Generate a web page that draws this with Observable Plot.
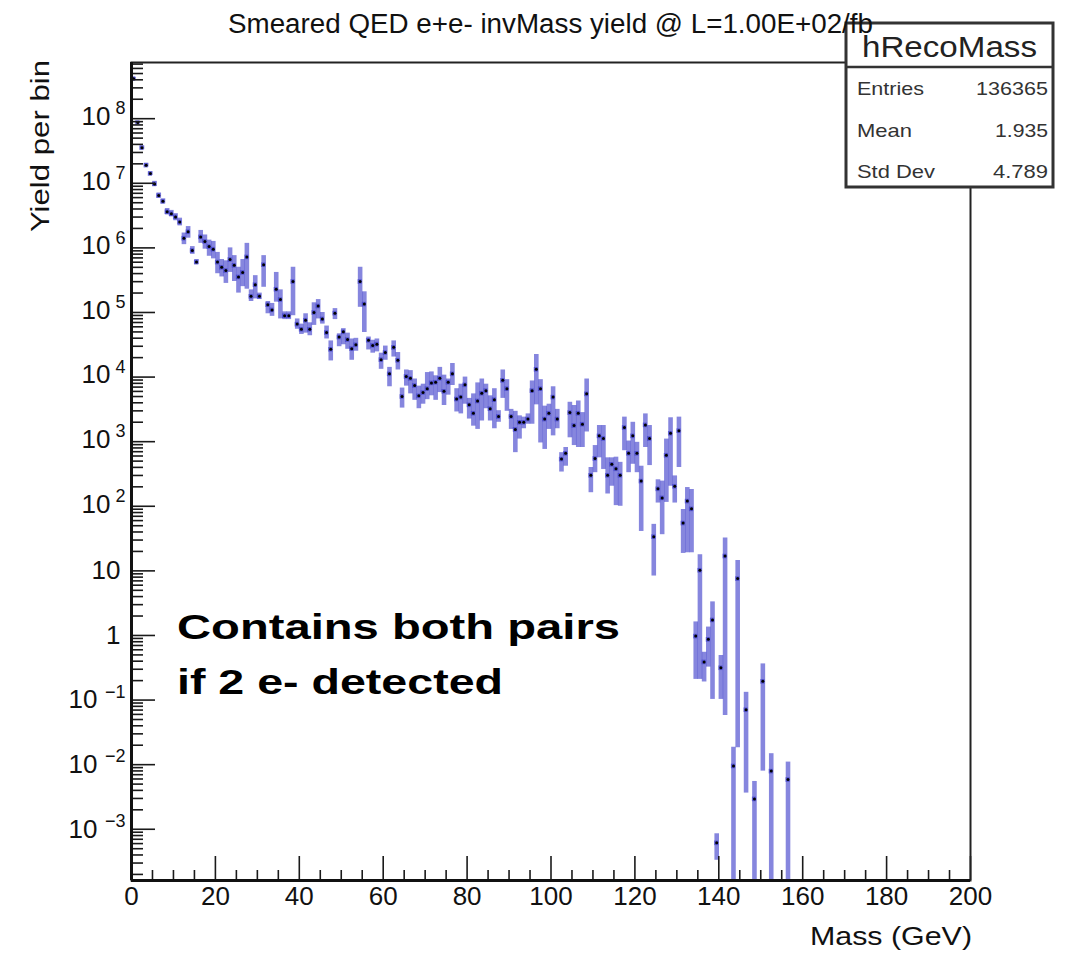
<!DOCTYPE html>
<html>
<head>
<meta charset="utf-8">
<script src="https://cdn.jsdelivr.net/npm/d3@7"></script>
<script src="https://cdn.jsdelivr.net/npm/@observablehq/plot@0.6"></script>
<style>
  html, body { margin: 0; padding: 0; background: #fff; }
  #chart svg { display: block; }
</style>
</head>
<body>
<div id="chart"></div>
<script>
// ---- data (1 GeV bins; yields on log axis) ----
const massBins = [
  0.5,1.5,2.5,3.5,4.5,5.5,6.5,7.5,8.5,9.5,
  10.5,11.5,12.5,13.5,14.5,15.5,16.5,17.5,18.5,19.5,
  20.5,21.5,22.5,23.5,24.5,25.5,26.5,27.5,28.5,29.5,
  30.5,31.5,32.5,33.5,34.5,35.5,36.5,37.5,38.5,39.5,
  40.5,41.5,42.5,43.5,44.5,45.5,46.5,47.5,48.5,49.5,
  50.5,51.5,52.5,53.5,54.5,55.5,56.5,57.5,58.5,59.5,
  60.5,61.5,62.5,63.5,64.5,65.5,66.5,67.5,68.5,69.5,
  70.5,71.5,72.5,73.5,74.5,75.5,76.5,77.5,78.5,79.5,
  80.5,81.5,82.5,83.5,84.5,85.5,86.5,87.5,88.5,89.5,
  90.5,91.5,92.5,93.5,94.5,95.5,96.5,97.5,98.5,99.5,
  100.5,101.5,102.5,103.5,104.5,105.5,106.5,107.5,108.5,109.5,
  110.5,111.5,112.5,113.5,114.5,115.5,116.5,117.5,118.5,119.5,
  120.5,121.5,122.5,123.5,124.5,125.5,126.5,127.5,128.5,129.5,
  130.5,131.5,132.5,133.5,134.5,135.5,136.5,137.5,138.5,139.5,
  140.5,141.5,
  143.5,144.5,146.5,148.5,150.5,152.5,156.5
];
// log10(yield per bin)
const logYield = [
  8.62,7.94,7.55,7.28,7.15,6.99,6.81,6.72,6.56,6.53,
  6.48,6.40,6.15,6.25,5.96,5.78,6.17,6.10,6.02,5.98,
  5.78,5.70,5.65,5.82,5.73,5.55,5.62,5.86,5.25,5.43,
  5.25,5.74,5.12,5.04,5.36,5.20,4.95,4.95,5.48,4.82,
  4.74,4.88,4.74,5.00,5.10,4.90,4.69,4.43,4.99,4.62,
  4.70,4.58,4.44,4.50,5.48,5.13,4.57,4.49,4.51,4.27,
  4.38,4.05,4.46,4.26,3.70,4.01,3.98,3.87,3.71,3.76,
  3.82,3.91,3.92,3.98,3.78,3.92,4.05,3.66,3.69,3.88,
  3.57,3.44,3.63,3.75,3.79,3.51,3.65,3.39,3.95,3.82,
  3.39,3.19,3.30,3.30,3.35,3.79,4.12,3.82,3.35,3.44,
  3.69,3.35,2.73,2.82,3.45,3.25,3.44,3.27,3.74,2.48,
  2.74,3.09,3.05,2.48,2.65,2.58,2.48,3.22,2.82,3.09,
  2.82,2.39,3.26,3.05,1.53,2.27,2.13,2.79,3.13,2.31,
  3.17,1.74,2.08,1.96,-0.01,1.01,-0.41,-0.06,0.24,-3.21,
  -0.50,1.23,
  -2.02,0.88,-1.15,-2.53,-0.71,-2.10,-2.23
];
// upper / lower error, in decades
const errUp = [
  .02,.02,.03,.03,.03,.04,.04,.04,.05,.05,
  .05,.06,.08,.08,.06,.04,.10,.10,.10,.12,
  .15,.12,.15,.18,.15,.15,.20,.21,.10,.14,
  .05,.14,.05,.10,.26,.15,.06,.06,.22,.08,
  .08,.10,.10,.15,.10,.10,.10,.13,.07,.05,
  .05,.10,.15,.10,.22,.19,.05,.08,.08,.10,
  .10,.10,.10,.12,.13,.10,.12,.10,.15,.13,
  .25,.17,.10,.17,.25,.05,.16,.16,.20,.12,
  .10,.30,.28,.22,.10,.20,.17,.09,.16,.14,
  .11,.28,.10,.08,.08,.15,.23,.14,.20,.14,
  .16,.15,.10,.09,.16,.31,.19,.18,.23,.12,
  .20,.16,.20,.27,.10,.18,.20,.16,.19,.21,
  .17,.23,.17,.20,.19,.14,.26,.25,.24,.16,
  .21,.21,.21,.30,.22,.24,.15,.19,.28,.14,
  .19,.28,
  .29,.28,.27,.27,.27,.27,.27
];
const errDown = [
  .02,.02,.03,.03,.03,.04,.04,.04,.05,.05,
  .06,.06,.10,.10,.06,.04,.10,.12,.15,.15,
  .18,.15,.20,.20,.25,.25,.22,.50,.08,.22,
  .05,.35,.14,.10,.20,.30,.06,.06,.53,.08,
  .08,.20,.10,.20,.20,.08,.10,.18,.10,.15,
  .20,.15,.18,.10,.40,.44,.15,.12,.12,.15,
  .12,.20,.15,.15,.18,.15,.24,.23,.20,.18,
  .17,.20,.28,.22,.22,.20,.18,.20,.26,.30,
  .22,.20,.44,.43,.28,.19,.45,.09,.28,.35,
  .20,.36,.26,.10,.08,.52,.55,.84,.47,.25,
  .60,.15,.20,.20,.39,.31,.53,.36,.59,.27,
  .22,.34,.48,.29,.34,.57,.48,.36,.30,.44,
  .30,.78,.35,.42,.61,.22,.57,.73,.82,.26,
  .57,.47,.80,.68,.67,1.69,.31,.43,1.23,.27,
  .49,2.47,
  9,2.62,1.29,9,1.39,9,9
];

const xTickValues = [0,20,40,60,80,100,120,140,160,180,200];
const xTickLabels = ["0","20","40","60","80","100","120","140","160","180","200"];
const yTickValues = [1e8,1e7,1e6,1e5,1e4,1e3,1e2,1e1,1,1e-1,1e-2,1e-3];
const yTickBase   = ["10","10","10","10","10","10","10","10","1","10","10","10"];
const yTickExp    = ["8","7","6","5","4","3","2","","","\u22121","\u22122","\u22123"];

const titleText = "Smeared QED e+e- invMass yield @ L=1.00E+02/fb";
const xTitle = "Mass (GeV)";
const yTitle = "Yield per bin";
const annotLines = ["Contains both pairs", "if 2 e- detected"];
const statsName = "hRecoMass";
const statsLabels = ["Entries", "Mean", "Std Dev"];
const statsValues = ["136365", "1.935", "4.789"];

// ---- layout ----
const W = 1066, H = 953;
const mL = 131, mR = 96, mT = 62, mB = 73;
const innerW = W - mL - mR, innerH = H - mT - mB;
const yDomain = [1.61e-4, 7.41e8];
const barColor = "#3535c8";
const font = "'Liberation Sans', Arial, Helvetica, sans-serif";

const data = massBins.map((m, i) => ({
  m,
  y: Math.pow(10, logYield[i]),
  lo: Math.max(Math.pow(10, logYield[i] - errDown[i]), yDomain[0]),
  hi: Math.pow(10, logYield[i] + errUp[i])
}));

// tick positions
const xMinor = d3.range(0, 201, 5).filter(v => v % 20 !== 0);
const yMinor = [];
for (let e = -4; e <= 8; e++) for (let k = 2; k <= 9; k++) {
  const v = k * Math.pow(10, e);
  if (v > yDomain[0] && v < yDomain[1]) yMinor.push(v);
}
const yLab = yTickValues.map((v, i) => ({v, base: yTickBase[i], exp: yTickExp[i]}));
const yPlain = yLab.filter(d => d.exp === "");
const yPos = yLab.filter(d => d.exp !== "" && !d.exp.startsWith("\u2212"));
const yNeg = yLab.filter(d => d.exp.startsWith("\u2212"));

const tickColor = "#1a1a1a";
const chart = Plot.plot({
  width: W, height: H,
  marginLeft: mL, marginRight: mR, marginTop: mT, marginBottom: mB,
  style: {fontFamily: font, background: "white", overflow: "visible", color: "#111"},
  x: {domain: [0, 200], axis: null},
  y: {type: "log", domain: yDomain, axis: null},
  marks: [
    // error bars (vertical and bin-width)
    Plot.ruleX(data, {x: "m", y1: "lo", y2: "hi", stroke: barColor, strokeOpacity: 0.6, strokeWidth: 4.6}),
    Plot.ruleY(data, {y: "y", x1: d => d.m - 0.5, x2: d => d.m + 0.5, stroke: barColor, strokeOpacity: 0.6, strokeWidth: 4.6}),
    Plot.dot(data, {x: "m", y: "y", r: 1.5, fill: "#000"}),
    // ticks (inward)
    Plot.ruleX(xMinor, {x: d => d, insetTop: innerH - 10, stroke: tickColor, strokeWidth: 1.6}),
    Plot.ruleX(xTickValues, {x: d => d, insetTop: innerH - 24, stroke: tickColor, strokeWidth: 1.6}),
    Plot.ruleY(yMinor, {y: d => d, insetRight: innerW - 12, stroke: tickColor, strokeWidth: 1.6}),
    Plot.ruleY(yTickValues, {y: d => d, insetRight: innerW - 24, stroke: tickColor, strokeWidth: 1.6}),
    // frame + axis lines
    Plot.frame({stroke: "#222", strokeWidth: 2}),
    Plot.ruleX([0], {stroke: "#111", strokeWidth: 3}),
    Plot.ruleY([yDomain[0]], {stroke: "#111", strokeWidth: 3}),
    // tick labels
    Plot.text(xTickValues, {x: d => d, text: (d, i) => xTickLabels[i], frameAnchor: "bottom", dy: 24, fontSize: 26, fill: "#111"}),
    Plot.text(yPlain, {y: "v", text: "base", frameAnchor: "left", dx: -11, textAnchor: "end", fontSize: 26, fill: "#111"}),
    Plot.text(yPos, {y: "v", text: "base", frameAnchor: "left", dx: -21, dy: -2, textAnchor: "end", fontSize: 26, fill: "#111"}),
    Plot.text(yPos, {y: "v", text: "exp", frameAnchor: "left", dx: -6, dy: -10, textAnchor: "end", fontSize: 18, fill: "#111"}),
    Plot.text(yNeg, {y: "v", text: "base", frameAnchor: "left", dx: -34, textAnchor: "end", fontSize: 26, fill: "#111"}),
    Plot.text(yNeg, {y: "v", text: "exp", frameAnchor: "left", dx: -6, dy: -8, textAnchor: "end", fontSize: 18, fill: "#111"})
  ]
});
document.getElementById("chart").appendChild(chart);

// ---- titles, annotation, stats box ----
const s = d3.select(chart);
function txt(x, y, str, size, o = {}) {
  const t = s.append("text").attr("x", x).attr("y", y).attr("font-size", size)
    .attr("font-family", font).attr("fill", o.fill || "#111")
    .attr("text-anchor", o.anchor || "start").text(str);
  if (o.weight) t.attr("font-weight", o.weight);
  if (o.len) t.attr("textLength", o.len).attr("lengthAdjust", "spacingAndGlyphs");
  if (o.transform) t.attr("transform", o.transform);
  return t;
}
// stats box
s.append("rect").attr("x", 846).attr("y", 23).attr("width", 207).attr("height", 164)
  .attr("fill", "white").attr("stroke", "#333").attr("stroke-width", 3);
s.append("line").attr("x1", 846).attr("x2", 1053).attr("y1", 67).attr("y2", 67)
  .attr("stroke", "#333").attr("stroke-width", 2.5);
txt(949.5, 57, statsName, 30, {anchor: "middle", len: 175, fill: "#222"});
const rowY = [95, 137, 178];
const labLen = [67, 55, 78];
const valLen = [72, 53, 55];
statsLabels.forEach((l, i) => {
  txt(857, rowY[i], l, 19, {len: labLen[i], fill: "#333"});
  txt(1048, rowY[i], statsValues[i], 19, {anchor: "end", len: valLen[i], fill: "#333"});
});
// title
txt(228, 33, titleText, 27, {len: 645});
// axis titles
txt(972, 945, xTitle, 25, {anchor: "end", len: 162});
txt(0, 0, yTitle, 25, {len: 172, transform: "translate(49,232) rotate(-90)"});
// annotation
txt(177, 639, annotLines[0], 35, {weight: "bold", len: 443, fill: "#000"});
txt(177, 694, annotLines[1], 35, {weight: "bold", len: 326, fill: "#000"});
</script>
</body>
</html>
